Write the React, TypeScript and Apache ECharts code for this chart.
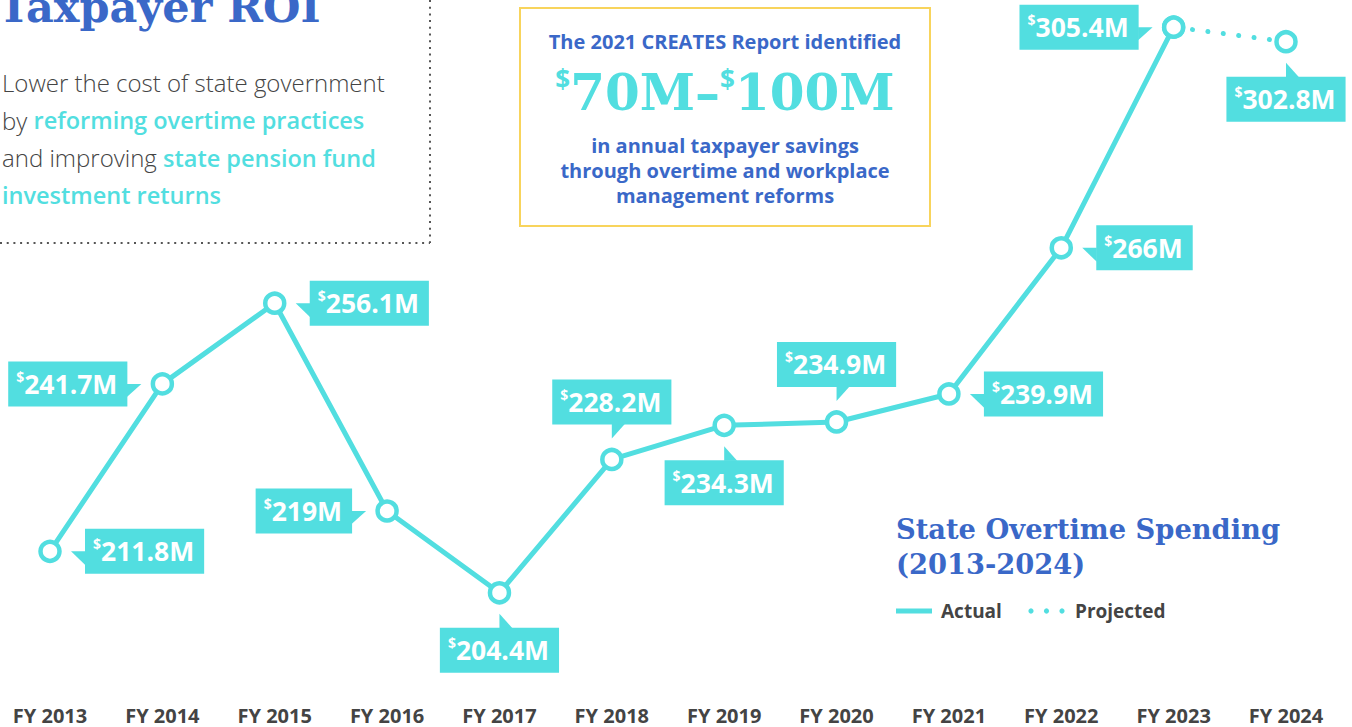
import React, { useEffect, useRef } from "react";
import * as echarts from "echarts";

const CATEGORIES = ["FY 2013", "FY 2014", "FY 2015", "FY 2016", "FY 2017", "FY 2018", "FY 2019", "FY 2020", "FY 2021", "FY 2022", "FY 2023", "FY 2024"];
const ACTUAL: (number | string)[] = [211.8, 241.7, 256.1, 219, 204.4, 228.2, 234.3, 234.9, 239.9, 266, 305.4, "-"];
const PROJECTED: (number | string)[] = ["-", "-", "-", "-", "-", "-", "-", "-", "-", "-", 305.4, 302.8];
const CALLOUT_VALUES = [211.8, 241.7, 256.1, 219, 204.4, 228.2, 234.3, 234.9, 239.9, 266, 305.4, 302.8];
const CALLOUT_SIDES = ["right", "left", "right", "left", "below", "above", "below", "above", "right", "right", "left", "below"];

const CYAN = "#52DEE0";
const BLUE = "#3A68C8";
const GRAY = "#444444";
const SANS = "'Open Sans', 'Noto Sans', sans-serif";
const SLAB = "'DejaVu Serif', serif";

export default function App() {
  const ref = useRef<HTMLDivElement>(null);
  useEffect(() => {
    if (!ref.current) return;
    const chart = echarts.init(ref.current, null, { renderer: "svg" });
    const rich = {
      d: { fontSize: 14, fontWeight: "bold", fontFamily: SANS, fill: "#fff", color: "#fff", verticalAlign: "top", lineHeight: 20 },
      n: { fontSize: 26.5, fontWeight: "bold", fontFamily: SANS, fill: "#fff", color: "#fff", lineHeight: 29 },
    };
    const option: any = {
      animation: false,
      grid: { left: 50, right: 66, top: 1.4, bottom: 727 - 617.4 },
      xAxis: {
        type: "category",
        data: CATEGORIES,
        boundaryGap: false,
        axisLine: { show: false },
        axisTick: { show: false },
        splitLine: { show: false },
        axisLabel: { margin: 88.5, fontSize: 20, lineHeight: 20, fontWeight: "bold", color: GRAY, fontFamily: SANS, interval: 0 },
      },
      yAxis: { type: "value", min: 200, max: 310, show: false, splitLine: { show: false } },
      series: [
        {
          name: "Projected",
          type: "line",
          data: PROJECTED,
          z: 2,
          symbol: "circle",
          symbolSize: 19,
          itemStyle: { color: "#fff", borderColor: CYAN, borderWidth: 4.5 },
          lineStyle: { color: CYAN, width: 5, type: [0.01, 15.5], cap: "round", dashOffset: 12 },
        },
        {
          name: "Actual",
          type: "line",
          data: ACTUAL,
          z: 3,
          symbol: "circle",
          symbolSize: 19,
          itemStyle: { color: "#fff", borderColor: CYAN, borderWidth: 4.5 },
          lineStyle: { color: CYAN, width: 5 },
        },
        {
          name: "Callouts",
          type: "custom",
          z: 4,
          data: CALLOUT_VALUES.map((v, i) => [i, v]),
          renderItem: (params: any, api: any) => {
            const i = params.dataIndex;
            const v = api.value(1);
            const [px, py] = api.coord([api.value(0), v]);
            const side = CALLOUT_SIDES[i];
            let tri: number[][];
            let x = px, y = py, align = "left", va = "middle";
            if (side === "right") {
              x = px + 35; align = "left"; va = "middle";
              tri = [[px + 21, py], [px + 35.5, py], [px + 35.5, py + 14]];
            } else if (side === "left") {
              x = px - 35; align = "right"; va = "middle";
              tri = [[px - 35.5, py], [px - 21, py], [px - 35.5, py + 13]];
            } else if (side === "below") {
              y = py + 35; align = "center"; va = "top";
              tri = [[px, py + 21], [px, py + 35.5], [px + 13, py + 35.5]];
            } else {
              y = py - 35; align = "center"; va = "bottom";
              tri = [[px, py - 21], [px, py - 35.5], [px + 13, py - 35.5]];
            }
            return {
              type: "group",
              children: [
                { type: "polygon", shape: { points: tri }, style: { fill: CYAN } },
                {
                  type: "text",
                  x, y,
                  style: {
                    text: `{d|$}{n|${v}M}`,
                    rich,
                    backgroundColor: CYAN,
                    padding: [8, 10, 8, 8],
                    align,
                    verticalAlign: va,
                  },
                },
              ],
            };
          },
        },
      ],
      graphic: [
        // top-left panel
        {
          type: "text", x: -2, y: 7,
          style: { text: "Taxpayer ROI", fontSize: 43, fontWeight: "bold", fontFamily: SLAB, fill: BLUE, align: "left", verticalAlign: "middle" },
        },
        {
          type: "text", x: 2, y: 64.3,
          style: {
            text: "Lower the cost of state government\nby {c|reforming overtime practices}\nand improving {c|state pension fund}\n{c|investment returns}",
            fontSize: 24, fontWeight: 300, fontFamily: SANS, fill: GRAY, lineHeight: 37.3,
            align: "left", verticalAlign: "top",
            rich: { c: { fontSize: 23.5, fontWeight: 600, fontFamily: SANS, fill: CYAN, lineHeight: 37.3 } },
          },
        },
        { type: "line", shape: { x1: 430, y1: 0, x2: 430, y2: 243 }, style: { stroke: "#555", lineWidth: 2, lineDash: [2, 4.7] } },
        { type: "line", shape: { x1: 0, y1: 243, x2: 430, y2: 243 }, style: { stroke: "#555", lineWidth: 2, lineDash: [2, 4.7] } },
        // yellow box
        { type: "rect", shape: { x: 520, y: 8, width: 410, height: 218 }, style: { stroke: "#F8D45C", lineWidth: 2, fill: "none" } },
        {
          type: "text", x: 725, y: 41,
          style: { text: "The 2021 CREATES Report identified", fontSize: 20, fontWeight: "bold", fontFamily: SANS, fill: BLUE, align: "center", verticalAlign: "middle" },
        },
        {
          type: "text", x: 725, y: 92,
          style: {
            text: "{s|$}{b|70M–}{s|$}{b|100M}",
            align: "center", verticalAlign: "middle",
            rich: {
              s: { fontSize: 26, fontWeight: "bold", fontFamily: SANS, fill: CYAN, verticalAlign: "top", lineHeight: 36 },
              b: { fontSize: 50, fontWeight: "bold", fontFamily: SLAB, fill: CYAN, lineHeight: 52 },
            },
          },
        },
        {
          type: "text", x: 725, y: 170,
          style: {
            text: "in annual taxpayer savings\nthrough overtime and workplace\nmanagement reforms",
            fontSize: 20, fontWeight: "bold", fontFamily: SANS, fill: BLUE, lineHeight: 25, align: "center", verticalAlign: "middle",
          },
        },
        // chart title
        {
          type: "text", x: 896, y: 529,
          style: { text: "State Overtime Spending", fontSize: 27.3, fontWeight: "bold", fontFamily: SLAB, fill: BLUE, align: "left", verticalAlign: "middle" },
        },
        {
          type: "text", x: 896, y: 564,
          style: { text: "(2013-2024)", fontSize: 27.3, fontWeight: "bold", fontFamily: SLAB, fill: BLUE, align: "left", verticalAlign: "middle" },
        },
        // legend
        { type: "line", shape: { x1: 896, y1: 611, x2: 932, y2: 611 }, style: { stroke: CYAN, lineWidth: 5 } },
        { type: "text", x: 941, y: 611, style: { text: "Actual", fontSize: 19, fontWeight: "bold", fontFamily: SANS, fill: GRAY, align: "left", verticalAlign: "middle" } },
        { type: "circle", shape: { cx: 1031, cy: 611, r: 2.6 }, style: { fill: CYAN } },
        { type: "circle", shape: { cx: 1046.5, cy: 611, r: 2.6 }, style: { fill: CYAN } },
        { type: "circle", shape: { cx: 1062, cy: 611, r: 2.6 }, style: { fill: CYAN } },
        { type: "text", x: 1075, y: 611, style: { text: "Projected", fontSize: 19, fontWeight: "bold", fontFamily: SANS, fill: GRAY, align: "left", verticalAlign: "middle" } },
      ],
    };
    chart.setOption(option);
    return () => chart.dispose();
  }, []);
  return <div ref={ref} style={{ position: "absolute", left: 0, top: 0, width: 1352, height: 727, background: "#fff" }} />;
}
